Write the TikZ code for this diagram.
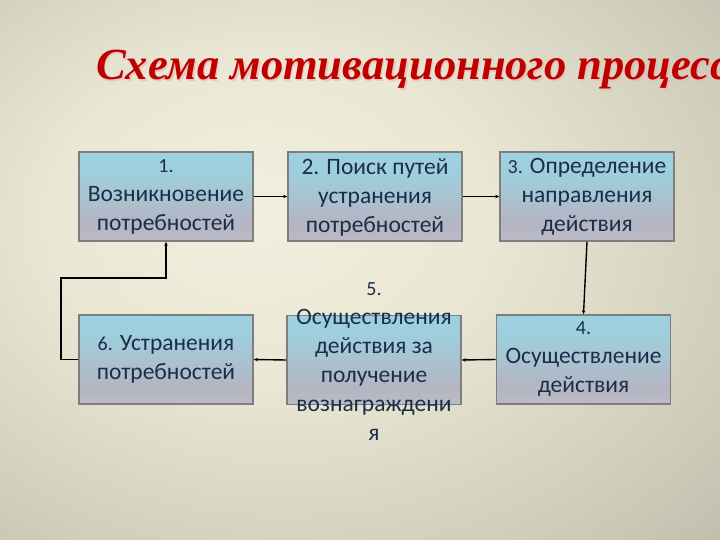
\documentclass[tikz,border=0pt]{standalone}
\usepackage{fontspec}
\setmainfont{Carlito}
\newfontfamily\titlefont{Liberation Serif}
\usetikzlibrary{arrows.meta}
\definecolor{txtcol}{HTML}{1A2E48}
\definecolor{titlered}{HTML}{C00000}
\definecolor{bordercol}{HTML}{7E7E7E}
\pgfdeclareradialshading{bgshade}{\pgfpoint{-8bp}{6bp}}{%
  color(0bp)=(rgb,255:red,240;green,239;blue,222);
  color(15bp)=(rgb,255:red,234;green,232;blue,212);
  color(32bp)=(rgb,255:red,208;green,206;blue,187);
  color(50bp)=(rgb,255:red,172;green,171;blue,156);
  color(75bp)=(rgb,255:red,138;green,137;blue,126)}
\pgfdeclareverticalshading{boxshade}{100bp}{%
  color(0bp)=(rgb,255:red,214;green,214;blue,220);
  color(12bp)=(rgb,255:red,196;green,196;blue,204);
  color(35bp)=(rgb,255:red,180;green,181;blue,194);
  color(62bp)=(rgb,255:red,160;green,205;blue,220);
  color(76bp)=(rgb,255:red,156;green,210;blue,226);
  color(92bp)=(rgb,255:red,200;green,226;blue,234);
  color(100bp)=(rgb,255:red,222;green,232;blue,236)}
\tikzset{
  box/.style={draw=bordercol, line width=1.6pt, shading=boxshade,
    minimum width=174pt, minimum height=89pt, inner sep=0pt},
  txt/.style={text=txtcol, align=center, inner sep=0pt,
    font=\fontsize{23.5}{29}\selectfont},
  conn/.style={line width=1.4pt, black},
  arr/.style={conn, -{Stealth[length=4pt,width=3.5pt]}},
}
\newcommand{\numsz}{\fontsize{20}{29}\selectfont}
\begin{document}
\begin{tikzpicture}[x=1pt,y=-1pt]
\useasboundingbox (0,0) rectangle (720,540);
\shade[shading=bgshade] (0,0) rectangle (720,540);
% title
\begin{scope}
\clip (0,0) rectangle (720,540);
\node[anchor=base west, inner sep=0pt, text=white!70!titlered, opacity=0.6,
  font=\titlefont\bfseries\itshape\fontsize{44.5}{50}\selectfont] at (97.5,81.5)
  {Схема мотивационного процесса};
\node[anchor=base west, inner sep=0pt, text=titlered,
  font=\titlefont\bfseries\itshape\fontsize{44.5}{50}\selectfont] (title) at (96,80)
  {Схема мотивационного процесса};
\end{scope}
% boxes
\node[box] (b1) at (166,196.5) {};
\node[box] (b2) at (375,196.5) {};
\node[box] (b3) at (587,196.5) {};
\node[box] (b6) at (166,359.5) {};
\node[box] (b5) at (374,360) {};
\node[box] (b4) at (583.5,359.5) {};
\node[txt] (t1) at (166,197) {{\numsz 1.}\\Возникновение\\потребностей};
\node[txt] (t2) at (375,197) {2. Поиск путей\\устранения\\потребностей};
\node[txt] (t3) at (587,197) {{\numsz 3.} Определение\\направления\\действия};
\node[txt] (t6) at (166,359) {{\numsz 6.} Устранения\\потребностей};
\node[txt] (t5) at (374,362) {{\numsz 5.}\\Осуществления\\действия за\\получение\\вознаграждени\\я};
\node[txt] (t4) at (583.5,359) {{\numsz 4.}\\Осуществление\\действия};
% connectors
\draw[arr] (b1.east) -- (b2.west);
\draw[arr] (b2.east) -- (b3.west);
\draw[arr] (b3.south) -- (b4.north);
\draw[arr] (b4.west) -- (b5.east);
\draw[arr] (b5.west) -- (b6.east);
\coordinate (c1) at (61,359.5);
\coordinate (c2) at (61,278);
\coordinate (c3) at (166,278);
\draw[arr] (b6.west) -- (c1) -- (c2) -- (c3) -- (b1.south);
\end{tikzpicture}
\end{document}
